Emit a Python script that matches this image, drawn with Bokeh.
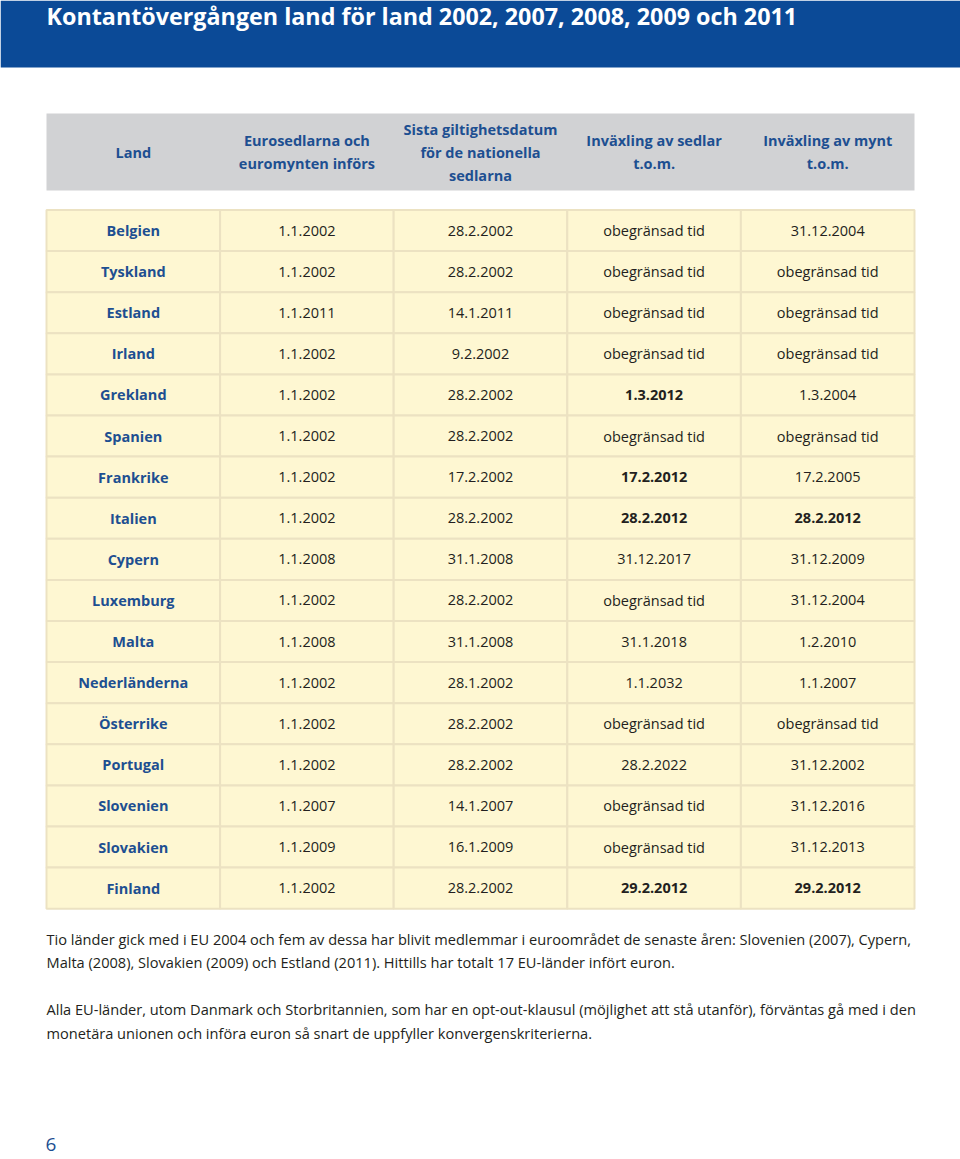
from bokeh.plotting import figure
from bokeh.models import Range1d, ColumnDataSource
from bokeh.core.properties import value
from bokeh.embed import file_html
from bokeh.resources import INLINE

# ---------------- data ----------------
title = "Kontantövergången land för land 2002, 2007, 2008, 2009 och 2011"
header_labels = [
    ["Land"],
    ["Eurosedlarna och", "euromynten införs"],
    ["Sista giltighetsdatum", "för de nationella", "sedlarna"],
    ["Inväxling av sedlar", "t.o.m."],
    ["Inväxling av mynt", "t.o.m."],
]
countries = ["Belgien", "Tyskland", "Estland", "Irland", "Grekland", "Spanien", "Frankrike",
             "Italien", "Cypern", "Luxemburg", "Malta", "Nederländerna", "Österrike",
             "Portugal", "Slovenien", "Slovakien", "Finland"]
introduced = ["1.1.2002", "1.1.2002", "1.1.2011", "1.1.2002", "1.1.2002", "1.1.2002", "1.1.2002",
              "1.1.2002", "1.1.2008", "1.1.2002", "1.1.2008", "1.1.2002", "1.1.2002",
              "1.1.2002", "1.1.2007", "1.1.2009", "1.1.2002"]
last_valid = ["28.2.2002", "28.2.2002", "14.1.2011", "9.2.2002", "28.2.2002", "28.2.2002", "17.2.2002",
              "28.2.2002", "31.1.2008", "28.2.2002", "31.1.2008", "28.1.2002", "28.2.2002",
              "28.2.2002", "14.1.2007", "16.1.2009", "28.2.2002"]
notes_until = ["obegränsad tid", "obegränsad tid", "obegränsad tid", "obegränsad tid", "1.3.2012",
               "obegränsad tid", "17.2.2012", "28.2.2012", "31.12.2017", "obegränsad tid",
               "31.1.2018", "1.1.2032", "obegränsad tid", "28.2.2022", "obegränsad tid",
               "obegränsad tid", "29.2.2012"]
coins_until = ["31.12.2004", "obegränsad tid", "obegränsad tid", "obegränsad tid", "1.3.2004",
               "obegränsad tid", "17.2.2005", "28.2.2012", "31.12.2009", "31.12.2004",
               "1.2.2010", "1.1.2007", "obegränsad tid", "31.12.2002", "31.12.2016",
               "31.12.2013", "29.2.2012"]
notes_bold = ["Grekland", "Frankrike", "Italien", "Finland"]
coins_bold = ["Italien", "Finland"]
footnote_lines = [
    "Tio länder gick med i EU 2004 och fem av dessa har blivit medlemmar i euroområdet de senaste åren: Slovenien (2007), Cypern,",
    "Malta (2008), Slovakien (2009) och Estland (2011). Hittills har totalt 17 EU-länder infört euron.",
    "",
    "Alla EU-länder, utom Danmark och Storbritannien, som har en opt-out-klausul (möjlighet att stå utanför), förväntas gå med i den",
    "monetära unionen och införa euron så snart de uppfyller konvergenskriterierna.",
]
page_number = "6"

# ---------------- layout ----------------
BLUE_BAND = "#0b4a97"
HEAD_GRAY = "#d1d2d4"
CELL_FILL = "#fef7d2"
CELL_LINE = "#ece2c2"
TEXT_BLUE = "#1d4f91"
TEXT_BLACK = "#231f20"
FONT = "Open Sans"

W, H = 960, 1159
tl, tr = 46.0, 914.0
ncol = 5
cw = (tr - tl) / ncol
head_top, head_bot = 113.0, 190.0
body_top, row_h = 209.5, 41.1

p = figure(width=W, height=H, output_backend="svg", toolbar_location=None,
           x_range=Range1d(0, W), y_range=Range1d(H, 0),
           min_border=0, outline_line_color=None, background_fill_color="white")
p.axis.visible = False
p.grid.visible = False

# blue title band
p.quad(left=[0], right=[W], top=[0], bottom=[67], fill_color=BLUE_BAND, line_color=None)
p.text(x=[46], y=[15], text=[title], text_color="white", text_font=value(FONT),
       text_font_style="bold", text_font_size="23.3px", text_baseline="middle", text_align="left")

# header row
p.quad(left=[tl], right=[tr], top=[head_top], bottom=[head_bot], fill_color=HEAD_GRAY, line_color=None)
hx, hy, ht = [], [], []
head_mid = (head_top + head_bot) / 2
line_gap = 23
for c, lines in enumerate(header_labels):
    n = len(lines)
    for k, t in enumerate(lines):
        hx.append(tl + cw * (c + 0.5))
        hy.append(head_mid + (k - (n - 1) / 2) * line_gap)
        ht.append(t)
p.text(x=hx, y=hy, text=ht, text_color=TEXT_BLUE, text_font=value(FONT), text_font_style="bold",
       text_font_size="14.5px", text_align="center", text_baseline="middle")

# body cells
nrow = len(countries)
L, R, T, B = [], [], [], []
for r in range(nrow):
    for c in range(ncol):
        L.append(tl + c * cw); R.append(tl + (c + 1) * cw)
        T.append(body_top + r * row_h); B.append(body_top + (r + 1) * row_h)
p.quad(left=L, right=R, top=T, bottom=B, fill_color=CELL_FILL, line_color=CELL_LINE, line_width=2)

# body text
cols = [countries, introduced, last_valid, notes_until, coins_until]
xs, ys, ts, styles, colors = [], [], [], [], []
for c, col in enumerate(cols):
    for r, t in enumerate(col):
        xs.append(tl + cw * (c + 0.5))
        ys.append(body_top + (r + 0.5) * row_h)
        ts.append(t)
        name = countries[r]
        if c == 0:
            styles.append("bold"); colors.append(TEXT_BLUE)
        elif (c == 3 and name in notes_bold) or (c == 4 and name in coins_bold):
            styles.append("bold"); colors.append(TEXT_BLACK)
        else:
            styles.append("normal"); colors.append(TEXT_BLACK)
src = ColumnDataSource(dict(x=xs, y=ys, t=ts, s=styles, col=colors))
p.text(x="x", y="y", text="t", source=src, text_color="col", text_font_style="s",
       text_font=value(FONT), text_font_size="14.5px", text_align="center", text_baseline="middle")

# footnotes
fy0, fgap = 938, 23.5
fx, fyy, ft = [], [], []
for i, t in enumerate(footnote_lines):
    if t:
        fx.append(46); fyy.append(fy0 + i * fgap); ft.append(t)
p.text(x=fx, y=fyy, text=ft, text_color=TEXT_BLACK, text_font=value(FONT), text_font_size="14.6px",
       text_align="left", text_baseline="middle")

# page number
p.text(x=[45], y=[1144], text=[page_number], text_color=TEXT_BLUE, text_font=value(FONT),
       text_font_size="19px", text_align="left", text_baseline="middle")

open("out.html", "w").write(file_html(p, INLINE))
